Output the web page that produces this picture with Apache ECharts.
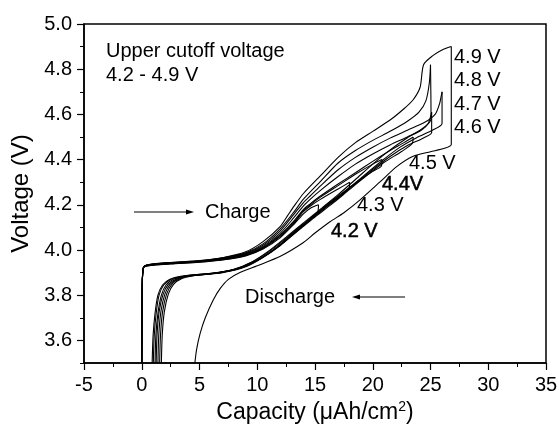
<!DOCTYPE html>
<html>
<head>
<meta charset="utf-8">
<script src="https://cdn.jsdelivr.net/npm/echarts@6/dist/echarts.min.js"></script>
<style>
  html, body { margin: 0; padding: 0; background: #fff; }
  #chart { width: 559px; height: 425px; }
</style>
</head>
<body>
<div id="chart"></div>
<script>
// Charge / discharge profiles for upper cutoff voltages 4.2 - 4.9 V
// Each point: [capacity (uAh/cm2), voltage (V)]
const charge42 = [[0,3.50],[0.04,3.83],[0.15,3.920],[0.6,3.930],[2.5,3.938],[5,3.946],[7,3.956],[9,3.974],[10.5,4.004],[12,4.055],[13.2,4.115],[14,4.160],[14.6,4.185],[15.3,4.200]];
const discharge42 = [[15.3,4.200],[15.25,4.170],[14.7,4.145],[14,4.112],[13,4.068],[12,4.024],[10.5,3.970],[9,3.928],[7,3.902],[5,3.892],[3.5,3.885],[2.4,3.870],[1.8,3.845],[1.4,3.800],[1.15,3.720],[0.98,3.620],[0.9,3.500]];

const charge43 = [[0,3.50],[0.04,3.83],[0.15,3.921],[0.6,3.931],[2.5,3.939],[5,3.947],[7,3.957],[9,3.976],[10.5,4.007],[12,4.060],[13.2,4.120],[14,4.170],[14.6,4.195],[15.5,4.225],[17,4.270],[18,4.300]];
const discharge43 = [[18,4.300],[17.95,4.272],[17.3,4.245],[16.3,4.208],[15,4.152],[14,4.108],[13,4.064],[12,4.020],[10.5,3.967],[9,3.926],[7,3.900],[5,3.890],[3.5,3.883],[2.5,3.870],[1.9,3.845],[1.5,3.800],[1.25,3.720],[1.08,3.620],[1.0,3.500]];

const charge44 = [[0,3.50],[0.04,3.83],[0.15,3.922],[0.6,3.932],[2.5,3.940],[5,3.948],[7,3.959],[9,3.978],[10.5,4.010],[12,4.065],[13.2,4.125],[14,4.175],[14.6,4.200],[15.5,4.235],[17,4.285],[18.5,4.335],[20,4.380],[20.8,4.400]];
const discharge44 = [[20.8,4.400],[20.75,4.372],[20,4.348],[19,4.314],[17.5,4.258],[16,4.200],[15,4.156],[14,4.110],[13,4.066],[12,4.022],[10.5,3.969],[9,3.928],[7,3.902],[5,3.890],[3.6,3.882],[2.7,3.870],[2.1,3.845],[1.7,3.800],[1.4,3.720],[1.22,3.620],[1.15,3.500]];

const charge45 = [[0,3.50],[0.04,3.83],[0.15,3.922],[0.6,3.933],[2.5,3.941],[5,3.949],[7,3.960],[9,3.980],[10.5,4.012],[12,4.068],[13.2,4.130],[14,4.180],[14.6,4.205],[15.5,4.240],[17,4.292],[18.5,4.342],[20,4.392],[21.5,4.440],[22.7,4.475],[23.5,4.500]];
const discharge45 = [[23.5,4.500],[23.4,4.470],[22.5,4.436],[21,4.388],[19.5,4.330],[18,4.268],[16.5,4.205],[15,4.146],[14,4.105],[12.5,4.042],[11,3.985],[9.5,3.941],[8,3.912],[6,3.895],[4,3.886],[3.0,3.872],[2.3,3.848],[1.85,3.805],[1.5,3.725],[1.32,3.620],[1.25,3.500]];

const charge46 = [[0,3.50],[0.04,3.83],[0.15,3.923],[0.6,3.934],[2.5,3.942],[5,3.950],[7,3.962],[9,3.982],[10.5,4.016],[12,4.075],[13.2,4.145],[14,4.195],[14.6,4.225],[15.5,4.265],[17,4.325],[18.5,4.380],[20,4.425],[21.5,4.465],[23,4.500],[24.2,4.530],[24.8,4.560],[25.1,4.610]];
const discharge46 = [[25.1,4.610],[25.1,4.520],[24.4,4.496],[23,4.462],[21.5,4.414],[20,4.356],[18.5,4.293],[17,4.230],[15.5,4.172],[14,4.115],[12.5,4.052],[11,3.993],[9.5,3.946],[8,3.915],[6,3.897],[4,3.887],[3.1,3.872],[2.45,3.848],[2.0,3.805],[1.65,3.725],[1.47,3.620],[1.4,3.500]];

const charge47 = [[0,3.50],[0.04,3.83],[0.15,3.924],[0.6,3.935],[2.5,3.943],[5,3.951],[7,3.964],[9,3.985],[10.5,4.021],[12,4.085],[13.2,4.160],[14,4.210],[14.6,4.240],[15.5,4.285],[17,4.355],[18.5,4.410],[20,4.455],[21.5,4.495],[23,4.530],[24.5,4.565],[25.4,4.600],[25.8,4.650],[26.0,4.700]];
const discharge47 = [[26.0,4.700],[26.0,4.560],[25.2,4.531],[23.8,4.497],[22.3,4.453],[20.8,4.395],[19.2,4.328],[17.5,4.255],[16,4.192],[14.5,4.132],[13,4.068],[11.5,4.004],[10,3.953],[8.5,3.920],[6.5,3.898],[4.5,3.888],[3.3,3.873],[2.6,3.848],[2.15,3.805],[1.8,3.725],[1.62,3.620],[1.55,3.500]];

const charge48 = [[0,3.50],[0.04,3.83],[0.15,3.924],[0.6,3.935],[2.5,3.944],[5,3.952],[7,3.965],[9,3.988],[10.5,4.027],[12,4.095],[13.2,4.170],[14,4.225],[15.5,4.305],[17,4.385],[18.5,4.440],[20,4.485],[21.5,4.525],[23,4.570],[24,4.610],[24.6,4.660],[24.9,4.740],[25.0,4.820]];
const discharge48 = [[25.0,4.820],[25.05,4.580],[24.4,4.541],[23,4.497],[21.5,4.443],[20,4.380],[18.5,4.312],[17,4.245],[15.5,4.182],[14,4.120],[12.5,4.057],[11,3.996],[9.5,3.946],[8,3.915],[6,3.895],[4.5,3.886],[3.4,3.872],[2.75,3.848],[2.3,3.805],[1.95,3.725],[1.77,3.620],[1.7,3.500]];

const charge49 = [[0,3.50],[0.04,3.84],[0.15,3.925],[0.6,3.936],[2.5,3.945],[5,3.953],[7,3.966],[9,3.992],[10.5,4.037],[12,4.105],[12.6,4.150],[13.2,4.195],[14,4.250],[15.5,4.330],[17,4.410],[18.5,4.475],[20,4.525],[21.5,4.575],[22.7,4.625],[23.5,4.665],[24.1,4.720],[24.4,4.820],[25.2,4.860],[26.0,4.885],[26.8,4.900]];
const discharge49 = [[26.8,4.900],[26.8,4.467],[26.2,4.450],[25,4.435],[23.5,4.415],[22.1,4.370],[20.6,4.300],[18.9,4.222],[17.5,4.165],[16.3,4.125],[15,4.075],[14,4.033],[12,3.972],[10,3.930],[8.5,3.900],[7.5,3.870],[6.8,3.830],[6.2,3.780],[5.5,3.700],[5.05,3.630],[4.75,3.560],[4.6,3.500]];

// Axis tick values
const yMajorTicks = [3.6, 3.8, 4.0, 4.2, 4.4, 4.6, 4.8, 5.0];
const yMinorTicks = [3.5, 3.7, 3.9, 4.1, 4.3, 4.5, 4.7, 4.9];

// Cutoff-voltage labels
const cutoffLabels = ['4.9 V', '4.8 V', '4.7 V', '4.6 V', '4.5 V', '4.4V', '4.3 V', '4.2 V'];

const curves = [charge42, discharge42, charge43, discharge43, charge44, discharge44, charge45, discharge45,
                charge46, discharge46, charge47, discharge47, charge48, discharge48, charge49, discharge49];

const FONT = 'Liberation Sans, Arial, Helvetica, sans-serif';

const chart = echarts.init(document.getElementById('chart'), null, { renderer: 'canvas' });

const series = curves.map(function (d) {
  return {
    type: 'line',
    data: d,
    showSymbol: false,
    symbol: 'none',
    smooth: 0.25,
    silent: true,
    animation: false,
    lineStyle: { color: '#000', width: 1.1 }
  };
});

// Text annotations (pixel placement inside the plot frame)
const labelStyle = { fill: '#000', fontSize: 20, fontFamily: FONT, verticalAlign: 'middle', align: 'left' };
const labelPos = [[454, 57], [454, 80], [454, 104], [454, 127], [409, 163], [382, 184], [357, 205], [331, 231]];
const graphics = [];
cutoffLabels.forEach(function (t, i) {
  const heavy = (t === '4.4V' || t === '4.2 V');
  graphics.push({
    type: 'text', x: labelPos[i][0], y: labelPos[i][1], silent: true,
    style: Object.assign({}, labelStyle, heavy ? { text: t, stroke: '#000', lineWidth: 0.5 } : { text: t })
  });
});
graphics.push({ type: 'text', x: 106, y: 51, silent: true, style: Object.assign({}, labelStyle, { text: 'Upper cutoff voltage' }) });
graphics.push({ type: 'text', x: 106, y: 75, silent: true, style: Object.assign({}, labelStyle, { text: '4.2 - 4.9 V' }) });
graphics.push({ type: 'text', x: 205, y: 212, silent: true, style: Object.assign({}, labelStyle, { text: 'Charge' }) });
graphics.push({ type: 'text', x: 245, y: 297, silent: true, style: Object.assign({}, labelStyle, { text: 'Discharge' }) });
// arrows
graphics.push({ type: 'line', silent: true, shape: { x1: 134, y1: 212, x2: 188, y2: 212 }, style: { stroke: '#000', lineWidth: 1 } });
graphics.push({ type: 'polygon', silent: true, shape: { points: [[194, 212], [186, 209.5], [186, 214.5]] }, style: { fill: '#000' } });
graphics.push({ type: 'line', silent: true, shape: { x1: 358, y1: 297, x2: 405, y2: 297 }, style: { stroke: '#000', lineWidth: 1 } });
graphics.push({ type: 'polygon', silent: true, shape: { points: [[352, 297], [360, 294.5], [360, 299.5]] }, style: { fill: '#000' } });

const option = {
  animation: false,
  backgroundColor: '#fff',
  grid: {
    left: 84, right: 13, top: 24, bottom: 62,
    outerBoundsMode: 'none',
    containLabel: false,
    show: true, borderColor: '#000', borderWidth: 1.5, backgroundColor: 'transparent'
  },
  xAxis: {
    type: 'value', min: -5, max: 35, interval: 5,
    name: 'Capacity (\u03bcAh/cm{sup|2})',
    nameLocation: 'middle', nameGap: 29,
    nameTextStyle: {
      color: '#000', fontSize: 23, fontFamily: FONT,
      rich: { sup: { fontSize: 14, fontFamily: FONT, color: '#000', verticalAlign: 'bottom', padding: [0, 0, 11, 0] } }
    },
    axisLine: { onZero: false, lineStyle: { color: '#000', width: 1.5 } },
    axisTick: { length: 7, lineStyle: { color: '#000', width: 1.2 } },
    minorTick: { show: true, splitNumber: 2, length: 4, lineStyle: { color: '#000', width: 1 } },
    axisLabel: { color: '#000', fontSize: 20, fontFamily: FONT, margin: 12 },
    splitLine: { show: false }
  },
  yAxis: [
    {
      type: 'value', min: 3.5, max: 5.0, position: 'left',
      name: 'Voltage (V)', nameLocation: 'middle', nameGap: 48, nameRotate: 90,
      nameTextStyle: { color: '#000', fontSize: 24, fontFamily: FONT },
      axisLine: { show: true, onZero: false, lineStyle: { color: '#000', width: 1.5 } },
      axisTick: { show: true, customValues: yMajorTicks, length: 7, lineStyle: { color: '#000', width: 1.2 } },
      axisLabel: { customValues: yMajorTicks, color: '#000', fontSize: 20, fontFamily: FONT, margin: 12,
                   formatter: function (v) { return v.toFixed(1); } },
      splitLine: { show: false }
    },
    {
      type: 'value', min: 3.5, max: 5.0, position: 'left', offset: 0,
      axisLine: { show: false, onZero: false },
      axisTick: { show: true, customValues: yMinorTicks, length: 4, lineStyle: { color: '#000', width: 1 } },
      axisLabel: { show: false },
      splitLine: { show: false }
    }
  ],
  series: series,
  graphic: graphics
};

chart.setOption(option);
</script>
</body>
</html>
